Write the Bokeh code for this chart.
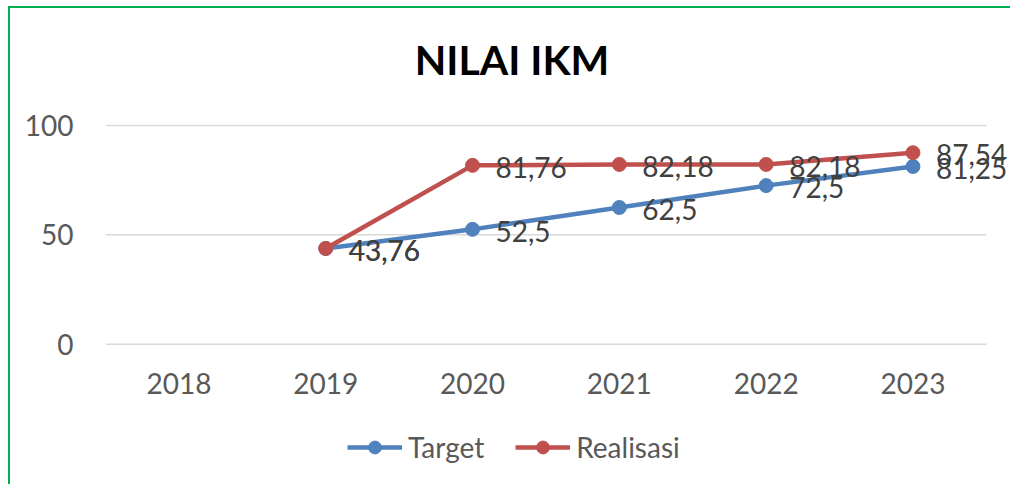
from bokeh.plotting import figure
from bokeh.models import (Range1d, FixedTicker, Legend, LegendItem, ColumnDataSource,
                          InlineStyleSheet, Label)
from bokeh.core.properties import value
from bokeh.embed import file_html
from bokeh.resources import INLINE

# ---- data ----
categories = ["2018", "2019", "2020", "2021", "2022", "2023"]
series_years = ["2019", "2020", "2021", "2022", "2023"]
target = [43.76, 52.5, 62.5, 72.5, 81.25]
realisasi = [43.76, 81.76, 82.18, 82.18, 87.54]
y_ticks = [0, 50, 100]
title_text = "NILAI IKM"
series_names = ["Target", "Realisasi"]

BLUE = "#4f81bd"
RED = "#c0504d"
FONT = "Lato"


def fmt(v):
    return f"{v:g}".replace(".", ",")


# category positions (centre of each category slot)
cat_pos = {c: i + 0.5 for i, c in enumerate(categories)}
xs = [cat_pos[y] for y in series_years]

p = figure(
    title=None,
    width=1002, height=478,
    output_backend="svg", toolbar_location=None,
    min_border_left=95, min_border_right=0,
    min_border_top=0, min_border_bottom=0,
)
p.x_range = Range1d(0, 6.178)
p.y_range = Range1d(-65.1, 153.5)
p.outline_line_color = None
p.background_fill_color = "white"
p.border_fill_color = "white"
p.margin = (6, 0, 0, 8)
p.stylesheets = [InlineStyleSheet(
    css=":host { border-left: 2px solid #00b050; border-top: 2px solid #00b050; }")]

# title
p.add_layout(Label(
    x=406.5, y=427, x_units="screen", y_units="screen", text=title_text,
    text_align="center", text_baseline="alphabetic",
    text_font=FONT, text_font_size="41px", text_font_style="bold", text_color="black",
))

# axes
p.yaxis.ticker = FixedTicker(ticks=y_ticks)
p.xaxis.ticker = FixedTicker(ticks=[cat_pos[c] for c in categories])
p.xaxis.major_label_overrides = {cat_pos[c]: c for c in categories}
p.xaxis.fixed_location = 0
for ax in (p.xaxis[0], p.yaxis[0]):
    ax.axis_line_color = None
    ax.major_tick_line_color = None
    ax.minor_tick_line_color = None
    ax.major_tick_out = 0
    ax.major_tick_in = 0
    ax.major_label_text_font = FONT
    ax.major_label_text_font_size = "28px"
    ax.major_label_text_color = "#595959"
p.yaxis.major_label_standoff = 32
p.xaxis.major_label_standoff = 29

p.xgrid.grid_line_color = None
p.ygrid.grid_line_color = None

# horizontal gridlines spanning the category slots
p.segment(x0=[0] * len(y_ticks), x1=[len(categories)] * len(y_ticks),
          y0=y_ticks, y1=y_ticks, line_color="#d9d9d9", line_width=1.5)

src_t = ColumnDataSource(dict(x=xs, y=target, lbl=[fmt(v) for v in target]))
src_r = ColumnDataSource(dict(x=xs, y=realisasi, lbl=[fmt(v) for v in realisasi]))

lt = p.line("x", "y", source=src_t, line_color=BLUE, line_width=4.5)
st = p.scatter("x", "y", source=src_t, size=14, fill_color=BLUE, line_color=BLUE)
lr = p.line("x", "y", source=src_r, line_color=RED, line_width=4.5)
sr = p.scatter("x", "y", source=src_r, size=14, fill_color=RED, line_color=RED)

for src in (src_r, src_t):
    p.text("x", "y", text="lbl", source=src, x_offset=23, y_offset=2,
           text_align="left", text_baseline="middle",
           text_font=value(FONT), text_font_size="28px", text_color="#404040")

legend = Legend(
    items=[LegendItem(label=series_names[0], renderers=[lt, st]),
           LegendItem(label=series_names[1], renderers=[lr, sr])],
    location=(242, 22), orientation="horizontal",
    glyph_width=55, glyph_height=32, label_standoff=6, spacing=31,
    padding=0, margin=0, border_line_color=None, background_fill_alpha=0,
    label_text_font=FONT, label_text_font_size="28px", label_text_color="#595959",
)
p.add_layout(legend, "center")

open("out.html", "w").write(file_html(p, INLINE))
